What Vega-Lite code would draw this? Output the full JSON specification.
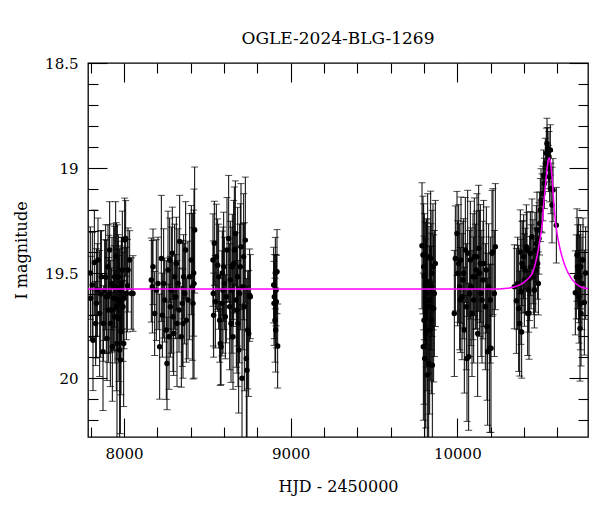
{
  "$schema": "https://vega.github.io/schema/vega-lite/v6.json",
  "width": 500,
  "height": 374,
  "autosize": "none",
  "padding": {"left": 88, "top": 63, "right": 12, "bottom": 75},
  "title": {"text": "OGLE-2024-BLG-1269", "font": "DejaVu Serif", "fontSize": 17, "fontWeight": "normal", "color": "black", "offset": 8},
  "datasets": {
    "phot": [
      {"t": 7798, "m": 19.50, "e": 0.22}, {"t": 7800, "m": 19.62, "e": 0.20}, {"t": 7810, "m": 19.557, "e": 0.25},
      {"t": 7814, "m": 19.819, "e": 0.24}, {"t": 7822, "m": 19.45, "e": 0.25}, {"t": 7830, "m": 19.74, "e": 0.20},
      {"t": 7834, "m": 19.644, "e": 0.26}, {"t": 7840, "m": 19.58, "e": 0.22}, {"t": 7844, "m": 19.438, "e": 0.20},
      {"t": 7854, "m": 19.692, "e": 0.30}, {"t": 7860, "m": 19.60, "e": 0.30}, {"t": 7864, "m": 19.517, "e": 0.22},
      {"t": 7874, "m": 19.874, "e": 0.28}, {"t": 7876, "m": 19.74, "e": 0.18}, {"t": 7884, "m": 19.581, "e": 0.24},
      {"t": 7890, "m": 19.52, "e": 0.25}, {"t": 7894, "m": 19.612, "e": 0.27}, {"t": 7898, "m": 19.811, "e": 0.20},
      {"t": 7904, "m": 19.47, "e": 0.20}, {"t": 7906, "m": 19.676, "e": 0.25}, {"t": 7910, "m": 19.60, "e": 0.28},
      {"t": 7914, "m": 19.39, "e": 0.23}, {"t": 7918, "m": 19.74, "e": 0.30}, {"t": 7924, "m": 19.676, "e": 0.20},
      {"t": 7928, "m": 19.55, "e": 0.22}, {"t": 7930, "m": 19.85, "e": 0.26}, {"t": 7938, "m": 19.565, "e": 0.30},
      {"t": 7940, "m": 19.62, "e": 0.25}, {"t": 7944, "m": 19.517, "e": 0.24}, {"t": 7946, "m": 19.708, "e": 0.22},
      {"t": 7950, "m": 19.42, "e": 0.26}, {"t": 7954, "m": 19.66, "e": 0.40}, {"t": 7958, "m": 19.835, "e": 0.45},
      {"t": 7960, "m": 19.57, "e": 0.30}, {"t": 7964, "m": 19.628, "e": 0.28}, {"t": 7966, "m": 19.517, "e": 0.20},
      {"t": 7970, "m": 19.716, "e": 0.30}, {"t": 7974, "m": 19.866, "e": 0.48}, {"t": 7976, "m": 19.64, "e": 0.27},
      {"t": 7978, "m": 19.914, "e": 0.35}, {"t": 7982, "m": 19.779, "e": 0.30}, {"t": 7984, "m": 19.581, "e": 0.25},
      {"t": 7986, "m": 19.549, "e": 0.22}, {"t": 7990, "m": 19.485, "e": 0.28}, {"t": 7994, "m": 19.66, "e": 0.26},
      {"t": 7998, "m": 19.835, "e": 0.30}, {"t": 8000, "m": 19.62, "e": 0.24}, {"t": 8004, "m": 19.343, "e": 0.20},
      {"t": 8010, "m": 19.335, "e": 0.18}, {"t": 8014, "m": 19.597, "e": 0.22}, {"t": 8020, "m": 19.56, "e": 0.22},
      {"t": 8024, "m": 19.485, "e": 0.20}, {"t": 8034, "m": 19.438, "e": 0.14}, {"t": 8044, "m": 19.597, "e": 0.17},
      {"t": 8054, "m": 19.597, "e": 0.18},

      {"t": 8164, "m": 19.533, "e": 0.20}, {"t": 8170, "m": 19.565, "e": 0.22}, {"t": 8174, "m": 19.47, "e": 0.18},
      {"t": 8184, "m": 19.692, "e": 0.20}, {"t": 8194, "m": 19.581, "e": 0.24}, {"t": 8204, "m": 19.549, "e": 0.22},
      {"t": 8214, "m": 19.85, "e": 0.25}, {"t": 8224, "m": 19.43, "e": 0.30}, {"t": 8230, "m": 19.70, "e": 0.20},
      {"t": 8238, "m": 19.549, "e": 0.26}, {"t": 8244, "m": 19.628, "e": 0.20}, {"t": 8254, "m": 19.771, "e": 0.33},
      {"t": 8258, "m": 19.93, "e": 0.22}, {"t": 8264, "m": 19.485, "e": 0.28}, {"t": 8270, "m": 19.803, "e": 0.25},
      {"t": 8274, "m": 19.438, "e": 0.20}, {"t": 8278, "m": 19.66, "e": 0.24}, {"t": 8284, "m": 19.581, "e": 0.30},
      {"t": 8290, "m": 19.406, "e": 0.22}, {"t": 8294, "m": 19.708, "e": 0.26}, {"t": 8298, "m": 19.787, "e": 0.20},
      {"t": 8304, "m": 19.517, "e": 0.25}, {"t": 8310, "m": 19.612, "e": 0.20}, {"t": 8314, "m": 19.454, "e": 0.22},
      {"t": 8318, "m": 19.74, "e": 0.30}, {"t": 8324, "m": 19.549, "e": 0.26}, {"t": 8330, "m": 19.676, "e": 0.20},
      {"t": 8334, "m": 19.35, "e": 0.22}, {"t": 8344, "m": 19.803, "e": 0.24}, {"t": 8350, "m": 19.644, "e": 0.30},
      {"t": 8354, "m": 19.74, "e": 0.26}, {"t": 8358, "m": 19.517, "e": 0.20}, {"t": 8364, "m": 19.597, "e": 0.24},
      {"t": 8370, "m": 19.39, "e": 0.23}, {"t": 8374, "m": 19.724, "e": 0.20}, {"t": 8384, "m": 19.628, "e": 0.28},
      {"t": 8394, "m": 19.517, "e": 0.30}, {"t": 8404, "m": 19.438, "e": 0.26}, {"t": 8410, "m": 19.565, "e": 0.35},
      {"t": 8414, "m": 19.644, "e": 0.36}, {"t": 8418, "m": 19.50, "e": 0.30}, {"t": 8420, "m": 19.55, "e": 0.45},
      {"t": 8424, "m": 19.295, "e": 0.30},

      {"t": 8534, "m": 19.438, "e": 0.22}, {"t": 8536, "m": 19.597, "e": 0.25}, {"t": 8538, "m": 19.70, "e": 0.20},
      {"t": 8542, "m": 19.358, "e": 0.20}, {"t": 8548, "m": 19.636, "e": 0.22}, {"t": 8554, "m": 19.422, "e": 0.25},
      {"t": 8562, "m": 19.462, "e": 0.22}, {"t": 8568, "m": 19.517, "e": 0.25}, {"t": 8574, "m": 19.724, "e": 0.20},
      {"t": 8578, "m": 19.835, "e": 0.20}, {"t": 8582, "m": 19.85, "e": 0.18}, {"t": 8588, "m": 19.644, "e": 0.25},
      {"t": 8590, "m": 19.50, "e": 0.20}, {"t": 8594, "m": 19.581, "e": 0.30}, {"t": 8598, "m": 19.47, "e": 0.26},
      {"t": 8602, "m": 19.549, "e": 0.22}, {"t": 8608, "m": 19.708, "e": 0.20}, {"t": 8614, "m": 19.612, "e": 0.22},
      {"t": 8618, "m": 19.39, "e": 0.25}, {"t": 8628, "m": 19.335, "e": 0.30}, {"t": 8634, "m": 19.66, "e": 0.30},
      {"t": 8638, "m": 19.533, "e": 0.28}, {"t": 8642, "m": 19.74, "e": 0.28}, {"t": 8648, "m": 19.581, "e": 0.30},
      {"t": 8650, "m": 19.47, "e": 0.25}, {"t": 8654, "m": 19.803, "e": 0.25}, {"t": 8658, "m": 19.454, "e": 0.30},
      {"t": 8662, "m": 19.39, "e": 0.30}, {"t": 8668, "m": 19.311, "e": 0.25}, {"t": 8674, "m": 19.628, "e": 0.32},
      {"t": 8678, "m": 19.676, "e": 0.30}, {"t": 8682, "m": 19.517, "e": 0.33}, {"t": 8684, "m": 19.74, "e": 0.30},
      {"t": 8688, "m": 19.866, "e": 0.30}, {"t": 8694, "m": 19.597, "e": 0.33}, {"t": 8698, "m": 19.47, "e": 0.30},
      {"t": 8702, "m": 19.374, "e": 0.30}, {"t": 8708, "m": 20.00, "e": 0.35}, {"t": 8714, "m": 19.565, "e": 0.30},
      {"t": 8718, "m": 19.422, "e": 0.30}, {"t": 8722, "m": 19.66, "e": 0.40}, {"t": 8728, "m": 19.343, "e": 0.30},
      {"t": 8734, "m": 19.906, "e": 0.38}, {"t": 8738, "m": 19.962, "e": 0.40}, {"t": 8742, "m": 19.771, "e": 0.28},
      {"t": 8748, "m": 19.787, "e": 0.30}, {"t": 8754, "m": 19.605, "e": 0.22}, {"t": 8758, "m": 19.612, "e": 0.20},

      {"t": 8898, "m": 19.557, "e": 0.18}, {"t": 8900, "m": 19.644, "e": 0.20}, {"t": 8902, "m": 19.612, "e": 0.20},
      {"t": 8906, "m": 19.724, "e": 0.20}, {"t": 8908, "m": 19.50, "e": 0.17}, {"t": 8910, "m": 19.771, "e": 0.20},
      {"t": 8912, "m": 19.581, "e": 0.17}, {"t": 8914, "m": 19.636, "e": 0.22}, {"t": 8918, "m": 19.493, "e": 0.20},
      {"t": 8922, "m": 19.847, "e": 0.20},

      {"t": 9788, "m": 19.37, "e": 0.30}, {"t": 9794, "m": 19.414, "e": 0.28}, {"t": 9796, "m": 19.85, "e": 0.35},
      {"t": 9798, "m": 19.47, "e": 0.30}, {"t": 9800, "m": 19.724, "e": 0.40}, {"t": 9802, "m": 19.517, "e": 0.30},
      {"t": 9804, "m": 19.906, "e": 0.40}, {"t": 9808, "m": 19.557, "e": 0.30}, {"t": 9810, "m": 19.787, "e": 0.45},
      {"t": 9814, "m": 19.597, "e": 0.35}, {"t": 9816, "m": 19.541, "e": 0.30}, {"t": 9818, "m": 19.66, "e": 0.40},
      {"t": 9820, "m": 19.985, "e": 0.35}, {"t": 9822, "m": 19.422, "e": 0.30}, {"t": 9828, "m": 19.93, "e": 0.40},
      {"t": 9830, "m": 19.628, "e": 0.35}, {"t": 9834, "m": 19.771, "e": 0.40}, {"t": 9838, "m": 19.66, "e": 0.35},
      {"t": 9840, "m": 19.43, "e": 0.32}, {"t": 9842, "m": 19.565, "e": 0.30}, {"t": 9844, "m": 19.724, "e": 0.35},
      {"t": 9848, "m": 19.501, "e": 0.30}, {"t": 9850, "m": 19.938, "e": 0.40}, {"t": 9854, "m": 19.47, "e": 0.30},
      {"t": 9858, "m": 19.668, "e": 0.35}, {"t": 9862, "m": 19.597, "e": 0.30}, {"t": 9868, "m": 19.454, "e": 0.30},

      {"t": 9982, "m": 19.692, "e": 0.30}, {"t": 9988, "m": 19.43, "e": 0.25}, {"t": 9998, "m": 19.311, "e": 0.20},
      {"t": 10002, "m": 19.501, "e": 0.25}, {"t": 10008, "m": 19.454, "e": 0.28}, {"t": 10014, "m": 19.565, "e": 0.30},
      {"t": 10018, "m": 19.628, "e": 0.25}, {"t": 10022, "m": 19.438, "e": 0.30}, {"t": 10028, "m": 19.612, "e": 0.30},
      {"t": 10034, "m": 19.533, "e": 0.28}, {"t": 10038, "m": 19.501, "e": 0.26}, {"t": 10042, "m": 19.771, "e": 0.30},
      {"t": 10048, "m": 19.39, "e": 0.25}, {"t": 10054, "m": 19.66, "e": 0.30}, {"t": 10058, "m": 19.906, "e": 0.30},
      {"t": 10062, "m": 19.406, "e": 0.30}, {"t": 10068, "m": 19.898, "e": 0.35}, {"t": 10074, "m": 19.597, "e": 0.30},
      {"t": 10078, "m": 19.438, "e": 0.28}, {"t": 10082, "m": 19.565, "e": 0.28}, {"t": 10088, "m": 19.692, "e": 0.30},
      {"t": 10094, "m": 19.517, "e": 0.30}, {"t": 10098, "m": 19.628, "e": 0.30}, {"t": 10102, "m": 19.422, "e": 0.28},
      {"t": 10108, "m": 19.517, "e": 0.25}, {"t": 10114, "m": 19.485, "e": 0.28}, {"t": 10118, "m": 19.422, "e": 0.30},
      {"t": 10122, "m": 19.787, "e": 0.30}, {"t": 10128, "m": 19.382, "e": 0.30}, {"t": 10134, "m": 19.501, "e": 0.30},
      {"t": 10138, "m": 19.454, "e": 0.28}, {"t": 10142, "m": 19.597, "e": 0.30}, {"t": 10148, "m": 19.628, "e": 0.30},
      {"t": 10154, "m": 19.533, "e": 0.28}, {"t": 10158, "m": 19.454, "e": 0.30}, {"t": 10168, "m": 19.66, "e": 0.30},
      {"t": 10174, "m": 19.485, "e": 0.30}, {"t": 10178, "m": 19.755, "e": 0.35}, {"t": 10182, "m": 19.874, "e": 0.35},
      {"t": 10188, "m": 19.565, "e": 0.30}, {"t": 10194, "m": 19.858, "e": 0.40}, {"t": 10198, "m": 19.628, "e": 0.30},
      {"t": 10202, "m": 19.858, "e": 0.40}, {"t": 10208, "m": 19.406, "e": 0.30}, {"t": 10214, "m": 19.398, "e": 0.30},
      {"t": 10222, "m": 19.597, "e": 0.30}, {"t": 10228, "m": 19.374, "e": 0.30},

      {"t": 10342, "m": 19.565, "e": 0.20}, {"t": 10354, "m": 19.632, "e": 0.25}, {"t": 10362, "m": 19.549, "e": 0.22},
      {"t": 10368, "m": 19.668, "e": 0.30}, {"t": 10374, "m": 19.74, "e": 0.25}, {"t": 10378, "m": 19.399, "e": 0.20},
      {"t": 10382, "m": 19.589, "e": 0.25}, {"t": 10386, "m": 19.78, "e": 0.22}, {"t": 10388, "m": 19.454, "e": 0.20},
      {"t": 10394, "m": 19.47, "e": 0.22}, {"t": 10398, "m": 19.422, "e": 0.20}, {"t": 10402, "m": 19.533, "e": 0.22},
      {"t": 10408, "m": 19.486, "e": 0.20}, {"t": 10414, "m": 19.375, "e": 0.20}, {"t": 10418, "m": 19.391, "e": 0.18},
      {"t": 10422, "m": 19.692, "e": 0.20}, {"t": 10428, "m": 19.581, "e": 0.20}, {"t": 10430, "m": 19.69, "e": 0.22},
      {"t": 10434, "m": 19.526, "e": 0.20}, {"t": 10438, "m": 19.407, "e": 0.20}, {"t": 10442, "m": 19.47, "e": 0.20},
      {"t": 10448, "m": 19.327, "e": 0.18}, {"t": 10454, "m": 19.446, "e": 0.20}, {"t": 10458, "m": 19.518, "e": 0.18},
      {"t": 10462, "m": 19.581, "e": 0.18}, {"t": 10466, "m": 19.391, "e": 0.18}, {"t": 10470, "m": 19.486, "e": 0.20},
      {"t": 10474, "m": 19.359, "e": 0.18}, {"t": 10478, "m": 19.295, "e": 0.18}, {"t": 10482, "m": 19.454, "e": 0.17},
      {"t": 10486, "m": 19.549, "e": 0.15}, {"t": 10490, "m": 19.335, "e": 0.17}, {"t": 10494, "m": 19.264, "e": 0.15},
      {"t": 10498, "m": 19.20, "e": 0.15}, {"t": 10502, "m": 19.153, "e": 0.15}, {"t": 10508, "m": 19.168, "e": 0.14},
      {"t": 10514, "m": 19.121, "e": 0.13}, {"t": 10518, "m": 19.034, "e": 0.12}, {"t": 10522, "m": 19.073, "e": 0.12},
      {"t": 10528, "m": 18.978, "e": 0.12}, {"t": 10534, "m": 18.93, "e": 0.12}, {"t": 10538, "m": 18.883, "e": 0.12},
      {"t": 10542, "m": 18.907, "e": 0.10}, {"t": 10546, "m": 19.002, "e": 0.11}, {"t": 10550, "m": 18.946, "e": 0.12},
      {"t": 10554, "m": 19.041, "e": 0.12}, {"t": 10558, "m": 18.914, "e": 0.12}, {"t": 10562, "m": 19.097, "e": 0.12},
      {"t": 10568, "m": 19.176, "e": 0.18}, {"t": 10574, "m": 19.105, "e": 0.15}, {"t": 10594, "m": 19.272, "e": 0.18},

      {"t": 10708, "m": 19.594, "e": 0.20}, {"t": 10714, "m": 19.518, "e": 0.20}, {"t": 10718, "m": 19.414, "e": 0.22},
      {"t": 10722, "m": 19.47, "e": 0.20}, {"t": 10728, "m": 19.486, "e": 0.25}, {"t": 10730, "m": 19.613, "e": 0.22},
      {"t": 10734, "m": 19.518, "e": 0.20}, {"t": 10736, "m": 19.764, "e": 0.25}, {"t": 10738, "m": 19.645, "e": 0.22},
      {"t": 10740, "m": 19.47, "e": 0.20}, {"t": 10742, "m": 19.692, "e": 0.25}, {"t": 10748, "m": 19.549, "e": 0.22},
      {"t": 10754, "m": 19.438, "e": 0.20}, {"t": 10762, "m": 19.64, "e": 0.25}, {"t": 10770, "m": 19.50, "e": 0.22}
    ],
    "model": [
      {"t": 7784, "m": 19.576}, {"t": 10200, "m": 19.576}, {"t": 10300, "m": 19.572}, {"t": 10378, "m": 19.555},
      {"t": 10420, "m": 19.53}, {"t": 10450, "m": 19.50}, {"t": 10478, "m": 19.42}, {"t": 10498, "m": 19.33},
      {"t": 10510, "m": 19.26}, {"t": 10518, "m": 19.17}, {"t": 10527, "m": 19.10}, {"t": 10534, "m": 19.04},
      {"t": 10542, "m": 18.98}, {"t": 10552, "m": 18.951}, {"t": 10560, "m": 18.98}, {"t": 10568, "m": 19.04},
      {"t": 10575, "m": 19.12}, {"t": 10582, "m": 19.20}, {"t": 10590, "m": 19.26}, {"t": 10598, "m": 19.31},
      {"t": 10618, "m": 19.39}, {"t": 10648, "m": 19.47}, {"t": 10688, "m": 19.53}, {"t": 10738, "m": 19.565},
      {"t": 10784, "m": 19.574}
    ]
  },
  "resolve": {"axis": {"x": "independent", "y": "independent"}},
  "layer": [
    {
      "data": {"name": "phot"},
      "mark": {"type": "errorbar", "ticks": true, "size": 7, "thickness": 1, "color": "black", "clip": true},
      "encoding": {
        "x": {
          "field": "t", "type": "quantitative",
          "scale": {"domain": [7784, 10784], "nice": false, "zero": false},
          "axis": {"orient": "bottom", "values": [8000, 9000, 10000], "format": "d", "tickSize": -19, "labelPadding": 28, "title": "HJD - 2450000", "titlePadding": 17}
        },
        "y": {
          "field": "m", "type": "quantitative",
          "scale": {"domain": [18.5, 20.28], "reverse": true, "nice": false, "zero": false},
          "axis": {"orient": "left", "values": [18.5, 19, 19.5, 20], "format": "~g", "tickSize": -19, "labelPadding": 29, "title": "I magnitude", "titlePadding": 15}
        },
        "yError": {"field": "e"}
      }
    },
    {
      "data": {"name": "phot"},
      "mark": {"type": "circle", "size": 30, "color": "black", "opacity": 1, "clip": true},
      "encoding": {
        "x": {"field": "t", "type": "quantitative",
          "axis": {"orient": "bottom", "values": [7800, 8200, 8400, 8600, 8800, 9200, 9400, 9600, 9800, 10200, 10400, 10600], "tickSize": -10, "labels": false, "title": null}},
        "y": {"field": "m", "type": "quantitative",
          "axis": {"orient": "left", "values": [18.6, 18.7, 18.8, 18.9, 19.1, 19.2, 19.3, 19.4, 19.6, 19.7, 19.8, 19.9, 20.1, 20.2], "tickSize": -10, "labels": false, "title": null}}
      }
    },
    {
      "data": {"name": "model"},
      "mark": {"type": "line", "color": "#ff00ff", "strokeWidth": 1.5, "interpolate": "monotone", "clip": true},
      "encoding": {
        "x": {"field": "t", "type": "quantitative",
          "axis": {"orient": "top", "values": [8000, 9000, 10000], "tickSize": -19, "labels": false, "title": null}},
        "y": {"field": "m", "type": "quantitative",
          "axis": {"orient": "right", "values": [18.5, 19, 19.5, 20], "tickSize": -19, "labels": false, "title": null}}
      }
    },
    {
      "data": {"name": "model"},
      "mark": {"type": "point", "opacity": 0},
      "encoding": {
        "x": {"field": "t", "type": "quantitative",
          "axis": {"orient": "top", "values": [7800, 8200, 8400, 8600, 8800, 9200, 9400, 9600, 9800, 10200, 10400, 10600], "tickSize": -10, "labels": false, "title": null}},
        "y": {"field": "m", "type": "quantitative",
          "axis": {"orient": "right", "values": [18.6, 18.7, 18.8, 18.9, 19.1, 19.2, 19.3, 19.4, 19.6, 19.7, 19.8, 19.9, 20.1, 20.2], "tickSize": -10, "labels": false, "title": null}}
      }
    }
  ],
  "config": {
    "view": {"stroke": "black", "strokeWidth": 1.3},
    "axis": {
      "domain": false, "grid": false,
      "tickColor": "black", "tickWidth": 1.1,
      "labelFont": "DejaVu Serif", "labelFontSize": 15, "labelColor": "black",
      "titleFont": "DejaVu Serif", "titleFontSize": 16, "titleFontWeight": "normal", "titleColor": "black"
    }
  }
}
